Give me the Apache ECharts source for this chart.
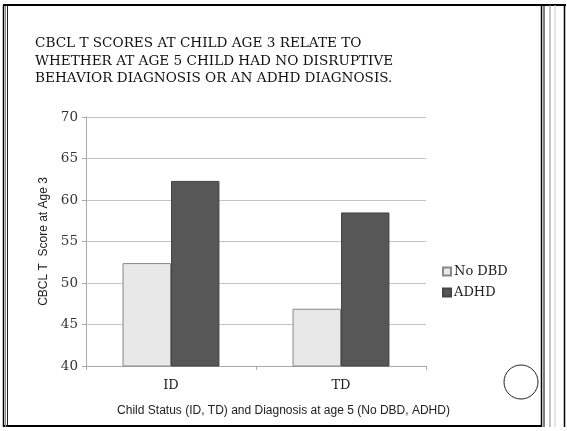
<!DOCTYPE html>
<html>
<head>
<meta charset="utf-8">
<script src="https://cdn.jsdelivr.net/npm/echarts@6/dist/echarts.min.js"></script>
<style>
html,body{margin:0;padding:0;background:#fff;}
#c{width:567px;height:431px;}
</style>
</head>
<body>
<div id="c"></div>
<script>
var titleLines = ['CBCL T SCORES AT CHILD AGE 3 RELATE TO', 'WHETHER AT AGE 5 CHILD HAD NO DISRUPTIVE', 'BEHAVIOR DIAGNOSIS OR AN ADHD DIAGNOSIS.'];
var categories = ['ID', 'TD'];
var seriesNames = ['No DBD', 'ADHD'];
var noDBD = [52.4, 46.9];
var adhd = [62.3, 58.5];
var yName = 'CBCL T  Score at Age 3';
var xName = 'Child Status (ID, TD) and Diagnosis at age 5 (No DBD, ADHD)';

var chart = echarts.init(document.getElementById('c'), null, {renderer: 'canvas'});
var serif = 'DejaVu Serif';
var sans = 'Liberation Sans';

function vline(x, y1, y2, color, w) {
  return {type: 'line', shape: {x1: x, y1: y1, x2: x, y2: y2}, style: {stroke: color, lineWidth: w}, silent: true};
}
function hline(y, x1, x2, color, w) {
  return {type: 'line', shape: {x1: x1, y1: y, x2: x2, y2: y}, style: {stroke: color, lineWidth: w}, silent: true};
}

chart.setOption({
  animation: false,
  backgroundColor: '#fff',
  title: {
    text: titleLines.join('\n'),
    left: 30, top: 30,
    textStyle: {fontFamily: serif, fontSize: 13.6, fontWeight: 'normal', color: '#111', lineHeight: 17.5}
  },
  legend: {
    orient: 'vertical',
    left: 437, top: 260,
    itemWidth: 8, itemHeight: 8, itemGap: 8,
    icon: 'rect',
    textStyle: {fontFamily: serif, fontSize: 13, color: '#222', padding: [0, 0, 0, -2]},
    data: seriesNames
  },
  grid: {left: 86, right: 141, top: 117, bottom: 65, containLabel: false},
  xAxis: {
    type: 'category',
    data: categories,
    axisLine: {lineStyle: {color: '#aaa', width: 1}},
    axisTick: {show: true, length: 4, lineStyle: {color: '#aaa'}},
    axisLabel: {fontFamily: serif, fontSize: 13, color: '#222', margin: 13},
    splitLine: {show: false}
  },
  yAxis: {
    type: 'value',
    min: 40, max: 70, interval: 5,
    name: yName,
    nameLocation: 'middle',
    nameGap: 36,
    nameTextStyle: {fontFamily: sans, fontSize: 12, color: '#222'},
    axisLine: {show: true, lineStyle: {color: '#aaa', width: 1}},
    axisTick: {show: true, length: 4, lineStyle: {color: '#aaa'}},
    axisLabel: {fontFamily: serif, fontSize: 13.5, color: '#333', margin: 8},
    splitLine: {lineStyle: {color: '#c4c4c4', width: 1}}
  },
  series: [
    {
      name: seriesNames[0], type: 'bar', data: noDBD,
      barGap: 0, barCategoryGap: '43%',
      itemStyle: {color: '#e8e8e8', borderColor: '#888', borderWidth: 1}
    },
    {
      name: seriesNames[1], type: 'bar', data: adhd,
      barGap: 0, barCategoryGap: '43%',
      itemStyle: {color: '#575757', borderColor: '#444', borderWidth: 1}
    }
  ],
  graphic: [
    {type: 'text', left: 'center', top: 405, style: {text: xName, font: '12px "Liberation Sans"', fill: '#222'}, silent: true},
    {type: 'circle', shape: {cx: 521, cy: 382, r: 17}, style: {fill: 'none', stroke: '#222', lineWidth: 1}, silent: true},
    hline(5, 3, 566, '#000', 2),
    hline(426, 3, 542, '#000', 2),
    vline(3.5, 5, 427, '#000', 1.5),
    vline(5.5, 6, 427, '#888', 1),
    vline(7.5, 6, 427, '#222', 1),
    vline(541.5, 5, 427, '#000', 1.5),
    vline(544, 5, 427, '#000', 1),
    vline(550, 5, 427, '#888', 1),
    vline(555, 5, 427, '#ccc', 1),
    vline(564.5, 5, 427, '#000', 1.5)
  ]
});
</script>
</body>
</html>
